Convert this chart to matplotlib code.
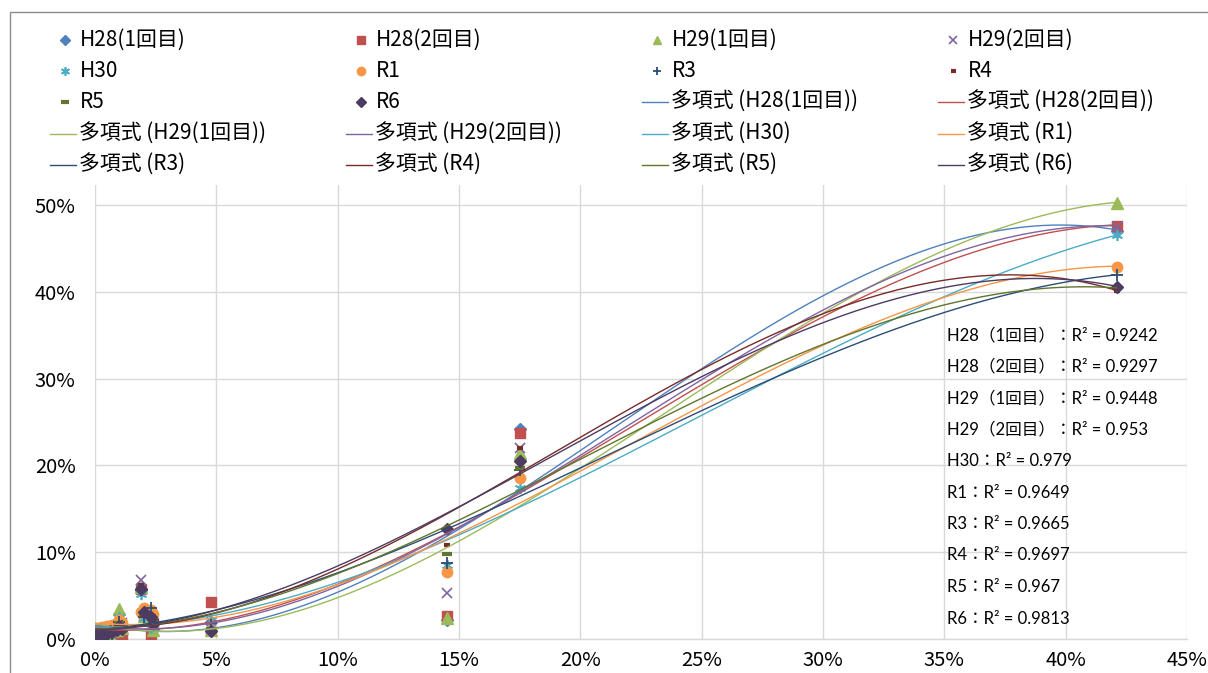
import numpy as np
import matplotlib
matplotlib.use("Agg")
import matplotlib.pyplot as plt
from matplotlib.lines import Line2D
from matplotlib.patches import Rectangle

plt.rcParams['font.family'] = ['Noto Sans CJK JP', 'DejaVu Sans']

# ---- data (percent) ----
x_pct = [0.0, 0.1, 0.2, 0.3, 0.4, 0.5, 0.6, 0.7, 0.9, 1.0, 1.1, 1.9, 2.0, 2.3, 2.4, 4.8, 14.5, 17.5, 42.1]

series_names = ["H28(1回目)", "H28(2回目)", "H29(1回目)", "H29(2回目)", "H30",
                "R1", "R3", "R4", "R5", "R6"]

y_h28_1 = [0.2, 0.4, 0.6, 0.3, 0.8, 0.5, 0.7, 0.9, 1.2, 2.9, 1.5, 5.6, 2.6, 2.4, 1.2, 2.0, 2.2, 24.2, 47.0]
y_h28_2 = [0.1, 0.3, 0.5, 0.4, 0.6, 0.3, 0.8, 0.5, 1.4, 0.6, 0.4, 5.8, 2.8, 0.3, 1.8, 4.3, 2.7, 23.7, 47.6]
y_h29_1 = [0.2, 0.5, 0.4, 0.7, 0.6, 0.8, 0.5, 0.9, 1.0, 3.4, 1.3, 6.0, 2.7, 2.5, 1.0, 1.0, 2.4, 21.4, 50.2]
y_h29_2 = [0.1, 0.4, 0.6, 0.5, 0.8, 0.7, 0.9, 0.6, 1.1, 1.5, 1.8, 6.8, 3.0, 2.0, 1.4, 1.2, 5.3, 22.0, 47.5]
y_h30   = [0.3, 0.8, 1.3, 0.9, 1.1, 0.6, 1.0, 0.8, 1.5, 2.5, 1.2, 5.2, 2.4, 1.3, 1.6, 2.2, 8.5, 17.4, 46.5]
y_r1    = [0.6, 0.9, 1.2, 1.4, 1.0, 1.5, 1.3, 1.6, 1.9, 2.2, 1.8, 3.1, 3.6, 3.3, 2.9, 1.0, 7.7, 18.6, 42.9]
y_r3    = [0.1, 0.3, 0.5, 0.6, 0.4, 0.7, 0.8, 0.6, 1.0, 2.0, 1.5, 5.6, 2.5, 3.6, 2.2, 1.8, 8.7, 19.5, 41.9]
y_r4    = [0.2, 0.3, 0.4, 0.6, 0.7, 0.5, 0.8, 0.9, 1.1, 1.6, 1.4, 6.2, 2.6, 2.8, 1.9, 1.0, 10.8, 22.0, 40.1]
y_r5    = [0.1, 0.4, 0.5, 0.4, 0.6, 0.8, 0.7, 0.8, 1.2, 1.8, 1.3, 5.9, 2.9, 2.6, 2.0, 1.1, 9.8, 19.7, 40.4]
y_r6    = [0.2, 0.3, 0.5, 0.7, 0.5, 0.6, 0.9, 0.8, 1.0, 1.5, 1.2, 5.8, 3.1, 2.5, 1.7, 0.9, 12.7, 20.5, 40.6]

series_values = [y_h28_1, y_h28_2, y_h29_1, y_h29_2, y_h30,
                 y_r1, y_r3, y_r4, y_r5, y_r6]

r2_labels = ["H28（1回目）：R² = 0.9242",
             "H28（2回目）：R² = 0.9297",
             "H29（1回目）：R² = 0.9448",
             "H29（2回目）：R² = 0.953",
             "H30：R² = 0.979",
             "R1：R² = 0.9649",
             "R3：R² = 0.9665",
             "R4：R² = 0.9697",
             "R5：R² = 0.967",
             "R6：R² = 0.9813"]

x_ticks = [0, 5, 10, 15, 20, 25, 30, 35, 40, 45]
y_ticks = [0, 10, 20, 30, 40, 50]

# ---- styles ----
colors = ["#4F81BD", "#C0504D", "#9BBB59", "#8064A2", "#4BACC6",
          "#F79646", "#2C4D75", "#772C2A", "#5F7530", "#4D3B62"]
markers = [dict(marker='D', ms=6.5), dict(marker='s', ms=7.5),
           dict(marker='^', ms=8), dict(marker='x', ms=7, mew=1.2),
           dict(marker=(6, 2, 0), ms=8, mew=1.2), dict(marker='o', ms=7.5),
           dict(marker='+', ms=8, mew=1.3), dict(marker='_', ms=4.5, mew=3),
           dict(marker='_', ms=7.5, mew=3), dict(marker='D', ms=6.5)]

W, H = 1208, 673
fig = plt.figure(figsize=(W / 100, H / 100), dpi=100)
ax = fig.add_axes([95 / W, 1 - 639 / H, (1187 - 95) / W, (639 - 185) / H])

ax.set_xlim(0, 45)
ax.set_ylim(0, 52.3)
ax.set_xticks(x_ticks)
ax.set_yticks(y_ticks)
ax.set_xticklabels([f"{t}%" for t in x_ticks])
ax.set_yticklabels([f"{t}%" for t in y_ticks])
ax.tick_params(length=0, labelsize=14.5, colors="#000000")
ax.tick_params(axis='y', pad=14)
ax.tick_params(axis='x', pad=8)
ax.grid(True, color="#D9D9D9", lw=1.0)
ax.set_axisbelow(True)
for s in ['top', 'right', 'left']:
    ax.spines[s].set_visible(False)
ax.spines['bottom'].set_color("#D9D9D9")
ax.spines['bottom'].set_linewidth(1.0)

xs = np.array(x_pct)
# markers
for vals, c, m in zip(series_values, colors, markers):
    ax.plot(xs, vals, ls='none', color=c, mec=c, mfc=c, zorder=3, **m)

# polynomial (order 3) trendlines fitted to each series
xx = np.linspace(xs.min(), xs.max(), 300)
for vals, c in zip(series_values, colors):
    p = np.polyfit(xs, np.array(vals, dtype=float), 3)
    ax.plot(xx, np.polyval(p, xx), color=c, lw=1.0, zorder=4)

# ---- manual legend (row-major, 4 columns) ----
entries = [(n, i, 'marker') for i, n in enumerate(series_names)] + \
          [(f"多項式 ({n})", i, 'line') for i, n in enumerate(series_names)]
col_x = [50, 346, 642, 938]
row_y = [40, 71, 102, 134, 165]
for k, (label, i, kind) in enumerate(entries):
    r, c = divmod(k, 4)
    x0 = col_x[c]
    y0 = row_y[r]
    if kind == 'marker':
        m = dict(markers[i])
        ms = m.pop('ms') * 0.8
        fig.add_artist(Line2D([(x0 + 15) / W], [1 - y0 / H], ls='none',
                              color=colors[i], mec=colors[i], mfc=colors[i],
                              ms=ms, **m))
        tx = x0 + 30
    else:
        fig.add_artist(Line2D([x0 / W, (x0 + 26) / W], [1 - y0 / H, 1 - y0 / H],
                              color=colors[i], lw=1.0))
        tx = x0 + 29
    fig.text(tx / W, 1 - y0 / H, label, fontsize=15, va='center', ha='left')

# ---- R² text ----
for j, t in enumerate(r2_labels):
    yy = 335 + j * 31.5
    fig.text(947 / W, 1 - yy / H, t, fontsize=12, va='center', ha='left',
             family=['Lato', 'Noto Sans CJK JP', 'DejaVu Sans'])

# chart frame (partially visible)
fig.add_artist(Rectangle((10 / W, -0.1), 1.2, 1 - 12 / H + 0.1,
                         transform=fig.transFigure, fill=False,
                         ec="#8C8C8C", lw=1.0))

fig.savefig("out.png", dpi=100)
